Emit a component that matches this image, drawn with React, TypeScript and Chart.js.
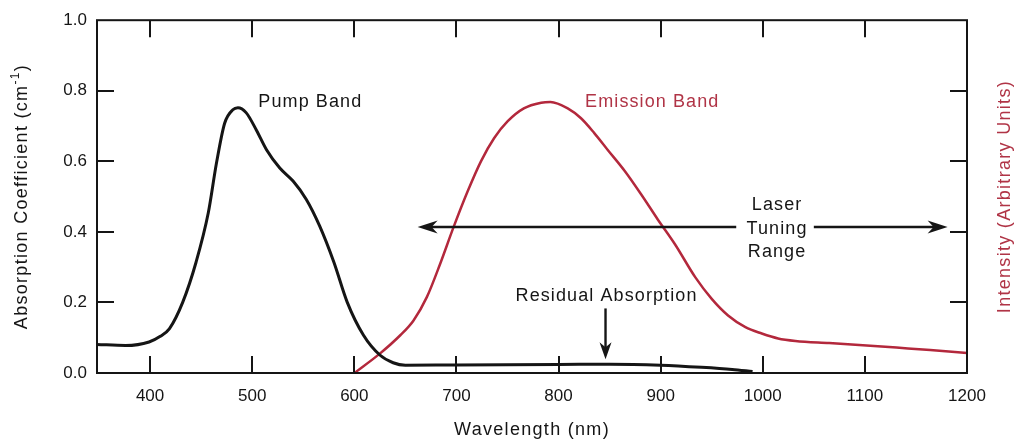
import React, { useEffect, useRef } from 'react';
import { Chart, registerables } from 'chart.js';

Chart.register(...registerables);

// ---- data ----
const xTicks = [400, 500, 600, 700, 800, 900, 1000, 1100, 1200];
const yTicks = [0, 0.2, 0.4, 0.6, 0.8, 1.0];
const innerTicksX = [400, 500, 600, 700, 800, 900, 1000, 1100];
const innerTicksY = [0.2, 0.4, 0.6, 0.8];

const pumpX = [348, 376, 399, 410, 419, 432, 445, 457, 465, 473, 481, 486, 494, 504, 514, 527, 540, 553, 566, 580, 593, 609, 625, 638, 650, 700, 800, 850, 900, 940, 970, 990];
const pumpY = [0.081, 0.078, 0.088, 0.104, 0.126, 0.201, 0.314, 0.454, 0.595, 0.708, 0.746, 0.752, 0.738, 0.689, 0.633, 0.581, 0.544, 0.492, 0.417, 0.314, 0.201, 0.107, 0.051, 0.029, 0.022, 0.023, 0.024, 0.025, 0.022, 0.016, 0.01, 0.004];

const emX = [600, 625, 645, 658, 671, 684, 697, 711, 724, 737, 750, 766, 783, 792, 809, 822, 835, 848, 865, 881, 897, 914, 934, 950, 966, 983, 999, 1015, 1032, 1065, 1098, 1131, 1164, 1200];
const emY = [0, 0.055, 0.107, 0.149, 0.215, 0.309, 0.412, 0.515, 0.6, 0.666, 0.713, 0.75, 0.766, 0.768, 0.75, 0.722, 0.68, 0.633, 0.572, 0.506, 0.436, 0.365, 0.271, 0.21, 0.163, 0.13, 0.112, 0.098, 0.091, 0.085, 0.079, 0.072, 0.065, 0.057];

const pumpLabelPos = [506, 0.769];
const emissionLabelPos = [826, 0.769];
const tuningLabels = ['Laser', 'Tuning', 'Range'];
const tuningLabelX = 1014;
const tuningLabelY = [0.476, 0.408, 0.344];
const tuningArrowX = [662, 1181];
const tuningGapX = [974, 1050];
const tuningArrowY = 0.414;
const residualLabelPos = [847, 0.217];
const residualArrowX = 846;
const residualArrowY = [0.183, 0.039];

const xTitle = 'Wavelength (nm)';
const yTitle = 'Absorption Coefficient (cm';
const yTitleSup = '-1';
const y2Title = 'Intensity (Arbitrary Units)';

const FONT = '"Liberation Sans", Arial, Helvetica, sans-serif';
const BLACK = '#151515';
const RED = '#b3283c';
const RED_TEXT = '#b03446';

function arrowHead(ctx: CanvasRenderingContext2D, tipX: number, tipY: number, dx: number, dy: number, len: number, half: number) {
  const bx = tipX - dx * len;
  const by = tipY - dy * len;
  const px = -dy, py = dx;
  ctx.beginPath();
  ctx.moveTo(tipX, tipY);
  ctx.lineTo(bx + px * half, by + py * half);
  ctx.lineTo(tipX - dx * len * 0.7, tipY - dy * len * 0.7);
  ctx.lineTo(bx - px * half, by - py * half);
  ctx.closePath();
  ctx.fill();
}

const decorPlugin = {
  id: 'decor',
  afterDraw(chart: any) {
    const ctx: CanvasRenderingContext2D = chart.ctx;
    const xs = chart.scales.x;
    const ys = chart.scales.y;
    const a = chart.chartArea;
    ctx.save();
    ctx.strokeStyle = BLACK;
    ctx.lineWidth = 2;
    ctx.strokeRect(a.left, a.top, a.right - a.left, a.bottom - a.top);
    const tl = 17;
    ctx.beginPath();
    innerTicksX.forEach((v) => {
      const px = Math.round(xs.getPixelForValue(v));
      ctx.moveTo(px, a.bottom);
      ctx.lineTo(px, a.bottom - tl);
      ctx.moveTo(px, a.top);
      ctx.lineTo(px, a.top + tl);
    });
    innerTicksY.forEach((v) => {
      const py = Math.round(ys.getPixelForValue(v));
      ctx.moveTo(a.left, py);
      ctx.lineTo(a.left + tl, py);
      ctx.moveTo(a.right, py);
      ctx.lineTo(a.right - tl, py);
    });
    ctx.stroke();

    (ctx as any).letterSpacing = '1.1px';
    ctx.font = `18px ${FONT}`;
    ctx.textBaseline = 'middle';

    ctx.fillStyle = BLACK;
    ctx.textAlign = 'left';
    ctx.fillText('Pump Band', xs.getPixelForValue(pumpLabelPos[0]), ys.getPixelForValue(pumpLabelPos[1]));
    ctx.fillStyle = RED_TEXT;
    ctx.fillText('Emission Band', xs.getPixelForValue(emissionLabelPos[0]), ys.getPixelForValue(emissionLabelPos[1]));

    ctx.fillStyle = BLACK;
    ctx.textAlign = 'center';
    tuningLabels.forEach((t, i) => {
      ctx.fillText(t, xs.getPixelForValue(tuningLabelX), ys.getPixelForValue(tuningLabelY[i]));
    });
    const ay = ys.getPixelForValue(tuningArrowY);
    const ax1 = xs.getPixelForValue(tuningArrowX[0]);
    const ax2 = xs.getPixelForValue(tuningArrowX[1]);
    const g1 = xs.getPixelForValue(tuningGapX[0]);
    const g2 = xs.getPixelForValue(tuningGapX[1]);
    ctx.lineWidth = 2.4;
    ctx.strokeStyle = BLACK;
    ctx.beginPath();
    ctx.moveTo(ax1 + 10, ay);
    ctx.lineTo(g1, ay);
    ctx.moveTo(g2, ay);
    ctx.lineTo(ax2 - 10, ay);
    ctx.stroke();
    arrowHead(ctx, ax1, ay, -1, 0, 20, 6.5);
    arrowHead(ctx, ax2, ay, 1, 0, 20, 6.5);

    ctx.fillText('Residual Absorption', xs.getPixelForValue(residualLabelPos[0]), ys.getPixelForValue(residualLabelPos[1]));
    const rx = xs.getPixelForValue(residualArrowX);
    const ry1 = ys.getPixelForValue(residualArrowY[0]);
    const ry2 = ys.getPixelForValue(residualArrowY[1]);
    ctx.beginPath();
    ctx.moveTo(rx, ry1);
    ctx.lineTo(rx, ry2 - 10);
    ctx.stroke();
    arrowHead(ctx, rx, ry2, 0, 1, 17, 6);

    (ctx as any).letterSpacing = '1.3px';
    ctx.fillStyle = BLACK;
    ctx.textAlign = 'center';
    ctx.fillText(xTitle, (a.left + a.right) / 2, 430);

    ctx.save();
    ctx.translate(22, (a.top + a.bottom) / 2);
    ctx.rotate(-Math.PI / 2);
    ctx.font = `18px ${FONT}`;
    const w1 = ctx.measureText(yTitle).width;
    ctx.font = `12px ${FONT}`;
    const w2 = ctx.measureText(yTitleSup).width;
    ctx.font = `18px ${FONT}`;
    const w3 = ctx.measureText(')').width;
    let sx = -(w1 + w2 + w3) / 2;
    ctx.textAlign = 'left';
    ctx.fillText(yTitle, sx, 0);
    sx += w1;
    ctx.font = `12px ${FONT}`;
    ctx.fillText(yTitleSup, sx, -6);
    sx += w2;
    ctx.font = `18px ${FONT}`;
    ctx.fillText(')', sx, 0);
    ctx.restore();

    ctx.save();
    ctx.translate(1005, (a.top + a.bottom) / 2);
    ctx.rotate(-Math.PI / 2);
    ctx.fillStyle = RED_TEXT;
    ctx.textAlign = 'center';
    ctx.fillText(y2Title, 0, 0);
    ctx.restore();

    ctx.restore();
  },
};

export default function App() {
  const ref = useRef<HTMLCanvasElement>(null);
  useEffect(() => {
    document.body.style.margin = '0';
    if (!ref.current) return;
    const chart = new Chart(ref.current, {
      type: 'line',
      data: {
        datasets: [
          {
            label: 'Absorption',
            data: pumpX.map((x, i) => ({ x, y: pumpY[i] })),
            borderColor: BLACK,
            borderWidth: 3,
            pointRadius: 0,
            cubicInterpolationMode: 'monotone',
            fill: false,
            yAxisID: 'y',
          },
          {
            label: 'Emission',
            data: emX.map((x, i) => ({ x, y: emY[i] })),
            borderColor: RED,
            borderWidth: 2.5,
            pointRadius: 0,
            cubicInterpolationMode: 'monotone',
            fill: false,
            yAxisID: 'y2',
          },
        ],
      },
      options: {
        animation: false,
        responsive: false,
        devicePixelRatio: 1,
        layout: { padding: { top: 18, left: 0, right: 0, bottom: 0 } },
        plugins: { legend: { display: false }, tooltip: { enabled: false } },
        scales: {
          x: {
            type: 'linear',
            min: 348,
            max: 1200,
            afterBuildTicks: (s: any) => {
              s.ticks = xTicks.map((v) => ({ value: v }));
            },
            afterFit: (s: any) => {
              s.height = 69;
            },
            ticks: {
              font: { family: FONT, size: 17 },
              color: BLACK,
              padding: 13,
              autoSkip: false,
              maxRotation: 0,
              callback: (v: any) => String(v),
            },
            grid: { display: false, drawTicks: false },
            border: { display: false },
          },
          y: {
            type: 'linear',
            position: 'left',
            min: 0,
            max: 1,
            afterBuildTicks: (s: any) => {
              s.ticks = yTicks.map((v) => ({ value: v }));
            },
            afterFit: (s: any) => {
              s.width = 97;
            },
            ticks: {
              font: { family: FONT, size: 17 },
              color: BLACK,
              padding: 10,
              callback: (v: any) => Number(v).toFixed(1),
            },
            grid: { display: false, drawTicks: false },
            border: { display: false },
          },
          y2: {
            type: 'linear',
            position: 'right',
            min: 0,
            max: 1,
            afterFit: (s: any) => {
              s.width = 48;
            },
            ticks: { display: false },
            grid: { display: false, drawTicks: false },
            border: { display: false },
          },
        },
      },
      plugins: [decorPlugin],
    } as any);
    return () => chart.destroy();
  }, []);
  return (
    <div style={{ width: 1015, height: 442 }}>
      <canvas ref={ref} width={1015} height={442} style={{ display: 'block' }} />
    </div>
  );
}
